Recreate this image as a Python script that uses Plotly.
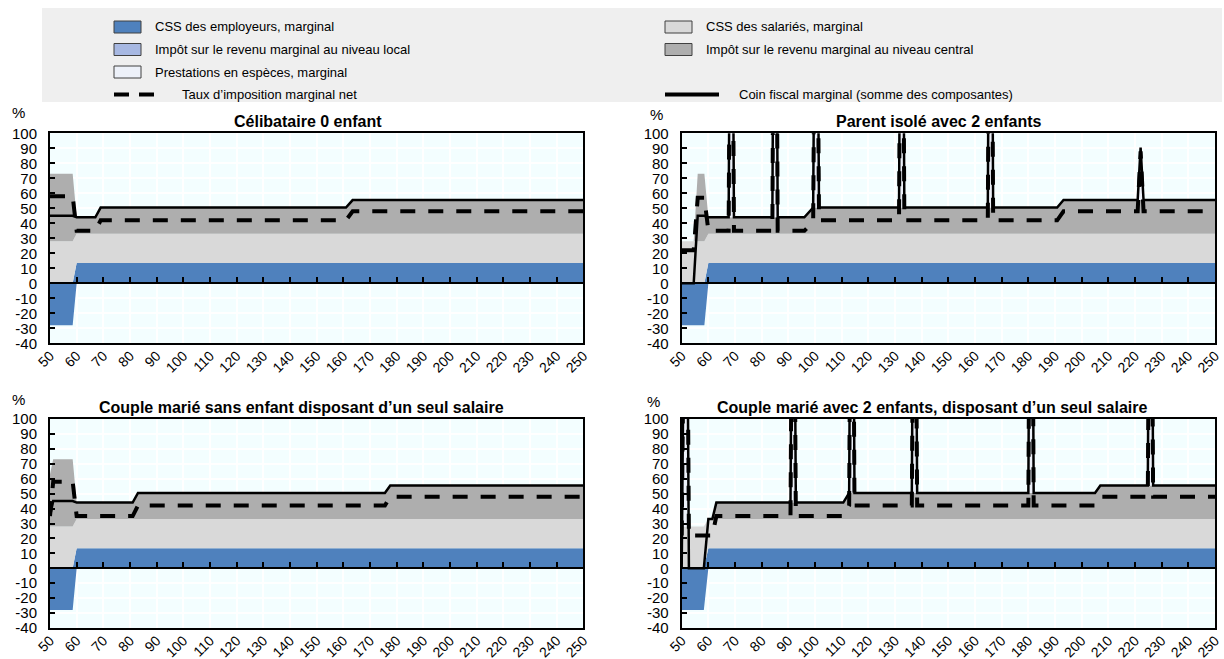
import plotly.graph_objects as go

W, H = 1224, 659

# Marginal rates (%) by gross earnings (% of average wage), one set of lists per household type.
# Components: employer SSC, employee SSC, local income tax, central income tax, cash benefits; plus net METR.

# --- Célibataire 0 enfant
inc_single = [50, 58.5, 60, 67, 69, 161, 163.5, 250]
emp_single = [-28, -28, 13.5, 13.5, 13.5, 13.5, 13.5, 13.5]
ee_single = [28, 28, 19.5, 19.5, 19.5, 19.5, 19.5, 19.5]
loc_single = [0, 0, 0, 0, 0, 0, 0, 0]
cen_single = [45, 45, 11, 11, 17.5, 17.5, 22.5, 22.5]
ben_single = [0, 0, 0, 0, 0, 0, 0, 0]
net_single = [58, 58, 35, 35, 42, 42, 48, 48]

# --- Parent isolé avec 2 enfants
inc_lone = [50, 54.5, 56, 58.5, 60, 67.6, 68.6, 69.6, 84, 85, 86, 96, 99.3, 100.4, 101.5,
            131.5, 132.5, 133.5, 164.8, 165.8, 166.8, 190.8, 193.2, 221, 222.1, 223.2, 250]
emp_lone = [-28, -28, -28, -28, 13.5, 13.5, 13.5, 13.5, 13.5, 13.5, 13.5, 13.5, 13.5, 13.5, 13.5,
            13.5, 13.5, 13.5, 13.5, 13.5, 13.5, 13.5, 13.5, 13.5, 13.5, 13.5, 13.5]
ee_lone = [28, 28, 28, 28, 19.5, 19.5, 19.5, 19.5, 19.5, 19.5, 19.5, 19.5, 19.5, 19.5, 19.5,
           19.5, 19.5, 19.5, 19.5, 19.5, 19.5, 19.5, 19.5, 19.5, 19.5, 19.5, 19.5]
loc_lone = [0, 0, 0, 0, 0, 0, 0, 0, 0, 0, 0, 0, 0, 0, 0,
            0, 0, 0, 0, 0, 0, 0, 0, 0, 0, 0, 0]
cen_lone = [0, 0, 45, 45, 11, 11, 11, 11, 11, 11, 11, 11, 17.5, 17.5, 17.5,
            17.5, 17.5, 17.5, 17.5, 17.5, 17.5, 17.5, 22.5, 22.5, 22.5, 22.5, 22.5]
ben_lone = [0, 0, 0, 0, 0, 0, 318, 0, 0, 365, 0, 0, 0, 290, 0,
            0, 340, 0, 0, 372, 0, 0, 0, 0, 35, 0, 0]
net_lone = [22, 22, 57, 57, 35, 35, 350, 35, 35, 398, 35, 35, 41, 322, 42,
            42, 370, 42, 42, 405, 42, 42, 48, 48, 88, 48, 48]

# --- Couple marié sans enfant disposant d'un seul salaire
inc_couple = [50, 51.2, 58.5, 60, 81, 83, 175.6, 177.6, 250]
emp_couple = [-28, -28, -28, 13.5, 13.5, 13.5, 13.5, 13.5, 13.5]
ee_couple = [28, 28, 28, 19.5, 19.5, 19.5, 19.5, 19.5, 19.5]
loc_couple = [0, 0, 0, 0, 0, 0, 0, 0, 0]
cen_couple = [35, 45, 45, 11, 11, 17.5, 17.5, 22.5, 22.5]
ben_couple = [0, 0, 0, 0, 0, 0, 0, 0, 0]
net_couple = [35, 58, 58, 35, 35, 42, 42, 48, 48]

# --- Couple marié avec 2 enfants, disposant d'un seul salaire
inc_family = [50, 51.6, 52.7, 58.3, 60, 61.5, 63, 90.8, 91.8, 92.8, 110.6, 112.8, 113.8, 114.8,
              136.3, 137.3, 138.3, 180, 181, 182, 205, 207, 224.8, 225.8, 226.8, 250]
emp_family = [-28, -28, -28, -28, 13.5, 13.5, 13.5, 13.5, 13.5, 13.5, 13.5, 13.5, 13.5, 13.5,
              13.5, 13.5, 13.5, 13.5, 13.5, 13.5, 13.5, 13.5, 13.5, 13.5, 13.5, 13.5]
ee_family = [28, 28, 28, 28, 19.5, 19.5, 19.5, 19.5, 19.5, 19.5, 19.5, 19.5, 19.5, 19.5,
             19.5, 19.5, 19.5, 19.5, 19.5, 19.5, 19.5, 19.5, 19.5, 19.5, 19.5, 19.5]
loc_family = [0, 0, 0, 0, 0, 0, 0, 0, 0, 0, 0, 0, 0, 0,
              0, 0, 0, 0, 0, 0, 0, 0, 0, 0, 0, 0]
cen_family = [0, 0, 0, 0, 0, 0, 11, 11, 11, 11, 11, 17.5, 17.5, 17.5,
              17.5, 17.5, 17.5, 17.5, 17.5, 17.5, 17.5, 22.5, 22.5, 22.5, 22.5, 22.5]
ben_family = [0, 330, 0, 0, 0, 0, 0, 0, 300, 0, 0, 0, 345, 0,
              0, 312, 0, 0, 360, 0, 0, 0, 0, 335, 0, 0]
net_family = [22, 320, 22, 22, 22, 22, 35, 35, 325, 35, 35, 42, 370, 42,
              42, 335, 42, 42, 390, 42, 42, 48, 48, 352, 48, 48]

panel_titles = [
    "Célibataire 0 enfant",
    "Parent isolé avec 2 enfants",
    "Couple marié sans enfant disposant d’un seul salaire",
    "Couple marié avec 2 enfants, disposant d’un seul salaire",
]
component_names = [
    "CSS des employeurs, marginal",
    "CSS des salariés, marginal",
    "Impôt sur le revenu marginal au niveau local",
    "Impôt sur le revenu marginal au niveau central",
    "Prestations en espèces, marginal",
]
net_name = "Taux d’imposition marginal net"
wedge_name = "Coin fiscal marginal (somme des composantes)"
x_tick_labels = ["50", "60", "70", "80", "90", "100", "110", "120", "130", "140", "150",
                 "160", "170", "180", "190", "200", "210", "220", "230", "240", "250"]
y_tick_labels = ["-40", "-30", "-20", "-10", "0", "10", "20", "30", "40", "50", "60",
                 "70", "80", "90", "100"]

# ---- styling ----
COLORS = ["#4F81BD", "#D9D9D9", "#A7B8E2", "#AEAEAE", "#EDF1F9"]
BG = "#F3FEFF"
LEGEND_BG = "#EFEFEF"
TXT = "Liberation Sans, Arial, sans-serif"

panels = [
    (inc_single, [emp_single, ee_single, loc_single, cen_single, ben_single], net_single),
    (inc_lone, [emp_lone, ee_lone, loc_lone, cen_lone, ben_lone], net_lone),
    (inc_couple, [emp_couple, ee_couple, loc_couple, cen_couple, ben_couple], net_couple),
    (inc_family, [emp_family, ee_family, loc_family, cen_family, ben_family], net_family),
]

# plot-area boxes in pixels: left, right, top, bottom
boxes = [(50, 583.3, 133.3, 343.3), (681.7, 1215, 133.3, 343.3),
         (50, 583.3, 419, 628), (681.7, 1215, 419, 628)]
title_cx = [308, 939, 301, 932]
pct_pos = [(18, 112), (656, 114), (18, 399), (653, 401)]


def fx(p):
    return p / W


def fy(p):
    return 1 - p / H


def ax_ref(letter, i, full=False):
    suffix = "" if i == 1 else str(i)
    return (letter + "axis" + suffix) if full else (letter + suffix)


fig = go.Figure()
layout = {}
annotations = []
shapes = []

x_vals = [float(t) for t in x_tick_labels]
y_vals = [float(t) for t in y_tick_labels]

for i, (inc, comps, net) in enumerate(panels, start=1):
    xr, yr = ax_ref("x", i), ax_ref("y", i)
    xr_top = ax_ref("x", i + 4)
    n = len(inc)
    pos_base = [0.0] * n
    neg_base = [0.0] * n
    # positive parts stack upward from zero, negative parts downward
    for vals, color in zip(comps, COLORS):
        pos = [max(v, 0) for v in vals]
        neg = [min(v, 0) for v in vals]
        if any(pos):
            upper = [b + p for b, p in zip(pos_base, pos)]
            fig.add_trace(go.Scatter(x=inc + inc[::-1], y=upper + pos_base[::-1], fill="toself",
                                     fillcolor=color, mode="lines", line=dict(width=0),
                                     hoverinfo="skip", showlegend=False, xaxis=xr, yaxis=yr))
            pos_base = upper
        if any(neg):
            lower = [b + q for b, q in zip(neg_base, neg)]
            fig.add_trace(go.Scatter(x=inc + inc[::-1], y=neg_base + lower[::-1], fill="toself",
                                     fillcolor=color, mode="lines", line=dict(width=0),
                                     hoverinfo="skip", showlegend=False, xaxis=xr, yaxis=yr))
            neg_base = lower
    wedge = [sum(c[k] for c in comps) for k in range(n)]
    fig.add_trace(go.Scatter(x=inc, y=wedge, mode="lines", line=dict(color="black", width=2.5),
                             name=wedge_name, showlegend=False, xaxis=xr_top, yaxis=yr))
    fig.add_trace(go.Scatter(x=inc, y=net, mode="lines",
                             line=dict(color="black", width=4, dash="15px,13px"),
                             name=net_name, showlegend=False, xaxis=xr_top, yaxis=yr))

    l, r, t, b = boxes[i - 1]
    xd = [fx(l), fx(r)]
    yd = [fy(b), fy(t)]
    layout[ax_ref("x", i, True)] = dict(
        domain=xd, anchor=yr, range=[50, 250], tickmode="array", tickvals=x_vals,
        ticktext=x_tick_labels, tickangle=-45, ticks="", showgrid=True, gridcolor="white",
        gridwidth=1.5, showline=True, mirror=True, linecolor="black", linewidth=2,
        zeroline=False, automargin=False, ticklabelstandoff=-3,
        tickfont=dict(family=TXT, size=14, color="black"))
    layout[ax_ref("y", i, True)] = dict(
        domain=yd, anchor=xr, range=[-40, 100], tickmode="array", tickvals=y_vals,
        ticktext=y_tick_labels, ticks="inside", ticklen=5, tickwidth=1.5, tickcolor="black",
        showgrid=True, gridcolor="white", gridwidth=1.5, showline=True, mirror=True,
        linecolor="black", linewidth=2, zeroline=False, ticklabelstandoff=8, automargin=False,
        tickfont=dict(family=TXT, size=15, color="black"))
    # overlay axis: zero line with upward ticks, carrying the two rate lines
    zero_pos = yd[0] + (yd[1] - yd[0]) * 40 / 140
    layout[ax_ref("x", i + 4, True)] = dict(
        overlaying=xr, anchor="free", position=zero_pos, side="bottom", range=[50, 250],
        tickmode="array", tickvals=x_vals, showticklabels=False, ticks="inside", ticklen=5,
        tickwidth=1.5, tickcolor="black", showline=True, linecolor="black", linewidth=2,
        showgrid=False, zeroline=False, automargin=False)

    annotations.append(dict(text="<b>" + panel_titles[i - 1] + "</b>", xref="paper", yref="paper",
                            x=fx(title_cx[i - 1]), y=fy(t - 12), xanchor="center", yanchor="middle",
                            showarrow=False, font=dict(family=TXT, size=16, color="black")))
    px_, py_ = pct_pos[i - 1]
    annotations.append(dict(text="%", xref="paper", yref="paper", x=fx(px_), y=fy(py_),
                            xanchor="center", yanchor="middle", showarrow=False,
                            font=dict(family=TXT, size=15, color="black")))

# ---- legend panel ----
shapes.append(dict(type="rect", xref="paper", yref="paper", x0=fx(42), x1=fx(1222),
                   y0=fy(102), y1=fy(8), fillcolor=LEGEND_BG, line=dict(width=0), layer="below"))

legend_rows = [27, 49.5, 72, 94.5]
left_sw, right_sw = 114, 665
swatches = [
    (left_sw, legend_rows[0], 0), (right_sw, legend_rows[0], 1),
    (left_sw, legend_rows[1], 2), (right_sw, legend_rows[1], 3),
    (left_sw, legend_rows[2], 4),
]
LEG_FONT = dict(family=TXT, size=13, color="black")
for sx, sy, k in swatches:
    shapes.append(dict(type="rect", xref="paper", yref="paper", x0=fx(sx), x1=fx(sx + 27),
                       y0=fy(sy + 6), y1=fy(sy - 6), fillcolor=COLORS[k],
                       line=dict(color="#404040", width=1)))
    annotations.append(dict(text=component_names[k], xref="paper", yref="paper",
                            x=fx(sx + 39), y=fy(sy), xanchor="left", yanchor="middle",
                            showarrow=False, font=LEG_FONT))

shapes.append(dict(type="line", xref="paper", yref="paper", x0=fx(left_sw), x1=fx(left_sw + 50),
                   y0=fy(legend_rows[3]), y1=fy(legend_rows[3]),
                   line=dict(color="black", width=4, dash="15px,10px")))
annotations.append(dict(text=net_name, xref="paper", yref="paper", x=fx(180), y=fy(legend_rows[3]),
                        xanchor="left", yanchor="middle", showarrow=False, font=LEG_FONT))
shapes.append(dict(type="line", xref="paper", yref="paper", x0=fx(right_sw), x1=fx(right_sw + 54),
                   y0=fy(legend_rows[3]), y1=fy(legend_rows[3]),
                   line=dict(color="black", width=4)))
annotations.append(dict(text=wedge_name, xref="paper", yref="paper", x=fx(737), y=fy(legend_rows[3]),
                        xanchor="left", yanchor="middle", showarrow=False, font=LEG_FONT))

fig.update_layout(
    width=W, height=H, margin=dict(l=0, r=0, t=0, b=0, autoexpand=False),
    paper_bgcolor="white", plot_bgcolor=BG, showlegend=False,
    annotations=annotations, shapes=shapes, **layout,
)

fig.write_html("out.html")
